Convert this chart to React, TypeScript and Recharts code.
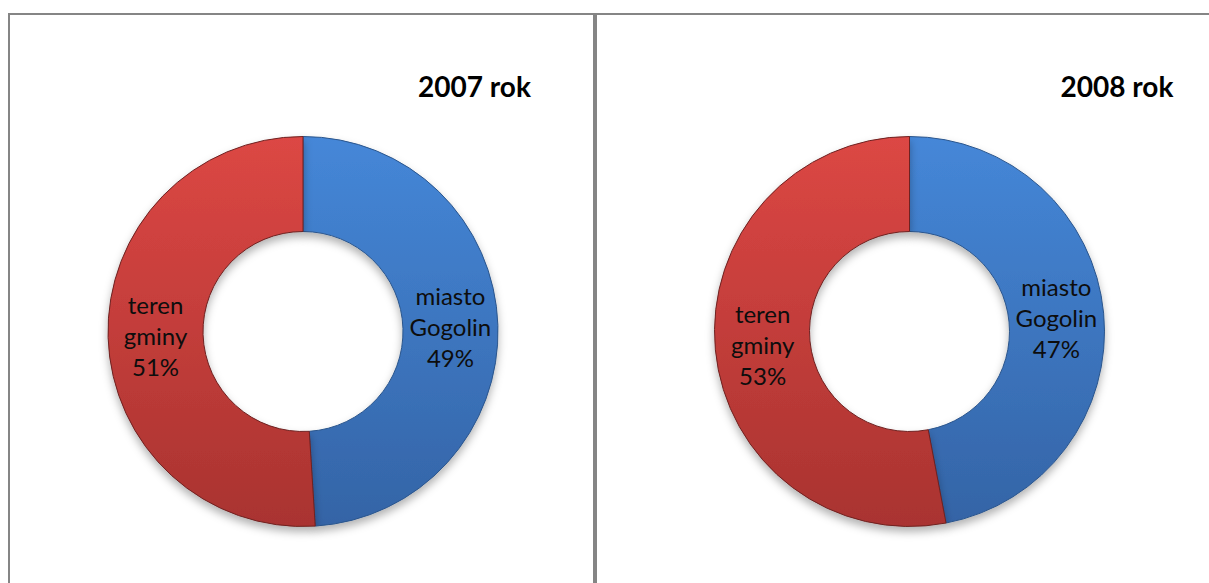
import React from "react";
import { PieChart, Pie, Cell } from "recharts";

const categories = ["miasto Gogolin", "teren gminy"];
const values2007 = [49, 51];
const values2008 = [47, 53];
const titles = ["2007 rok", "2008 rok"];

const RAD = Math.PI / 180;
const FONT = "Lato, 'Open Sans', sans-serif";

const toRows = (vals: number[]) =>
  categories.map((name, i) => ({ name, value: vals[i] }));

const renderLabel = (props: any) => {
  const { cx, cy, midAngle, innerRadius, outerRadius, name, value } = props;
  const r = (innerRadius + outerRadius) / 2;
  const x = cx + r * Math.cos(-midAngle * RAD);
  const y = cy + r * Math.sin(-midAngle * RAD);
  const lines = [...String(name).split(" "), `${value}%`];
  return (
    <text
      x={x}
      y={y}
      textAnchor="middle"
      fill="#0d0d0d"
      fontFamily={FONT}
      fontSize={24}
    >
      {lines.map((l, i) => (
        <tspan key={i} x={x} y={y + 9 + (i - 1) * 31}>
          {l}
        </tspan>
      ))}
    </text>
  );
};

const Donut = ({ vals, id }: { vals: number[]; id: string }) => (
  <PieChart width={582} height={566} margin={{ top: 0, right: 0, bottom: 0, left: 0 }}>
    <defs>
      <linearGradient id={`blue${id}`} x1="0" y1="0" x2="0" y2="1">
        <stop offset="0%" stopColor="#4587d8" />
        <stop offset="100%" stopColor="#3464a6" />
      </linearGradient>
      <linearGradient id={`red${id}`} x1="0" y1="0" x2="0" y2="1">
        <stop offset="0%" stopColor="#dc4744" />
        <stop offset="100%" stopColor="#a93330" />
      </linearGradient>
      <filter id={`sh${id}`} x="-20%" y="-20%" width="140%" height="140%">
        <feDropShadow dx="0" dy="5" stdDeviation="4" floodColor="#000" floodOpacity="0.3" />
      </filter>
    </defs>
    <Pie
      data={toRows(vals)}
      dataKey="value"
      nameKey="name"
      cx={id === "a" ? 293 : 312.5}
      cy={316.5}
      innerRadius={100}
      outerRadius={195}
      startAngle={90}
      endAngle={-270}
      isAnimationActive={false}
      label={renderLabel}
      labelLine={false}
    >
      <Cell fill={`url(#blue${id})`} stroke="#2a558c" strokeWidth={1} filter={`url(#sh${id})`} />
      <Cell fill={`url(#red${id})`} stroke="#6e2120" strokeWidth={1} filter={`url(#sh${id})`} />
    </Pie>
  </PieChart>
);

const panel = (left: number, width: number): React.CSSProperties => ({
  position: "absolute",
  left,
  top: 13,
  width,
  height: 600,
  border: "2px solid #858585",
  boxSizing: "border-box",
  background: "#fff",
});

const titleStyle = (center: number): React.CSSProperties => ({
  position: "absolute",
  left: center - 100,
  width: 200,
  top: 69,
  textAlign: "center",
  fontFamily: FONT,
  fontWeight: 700,
  fontSize: 28,
  color: "#000",
});

export default function App() {
  return (
    <div
      style={{
        position: "fixed",
        left: 0,
        top: 0,
        width: 1209,
        height: 583,
        overflow: "hidden",
        background: "#fff",
      }}
    >
      <div style={panel(8, 587)}>
        <Donut vals={values2007} id="a" />
      </div>
      <div style={panel(595, 640)}>
        <Donut vals={values2008} id="b" />
      </div>
      <div style={titleStyle(474.5)}>{titles[0]}</div>
      <div style={titleStyle(1117)}>{titles[1]}</div>
    </div>
  );
}
